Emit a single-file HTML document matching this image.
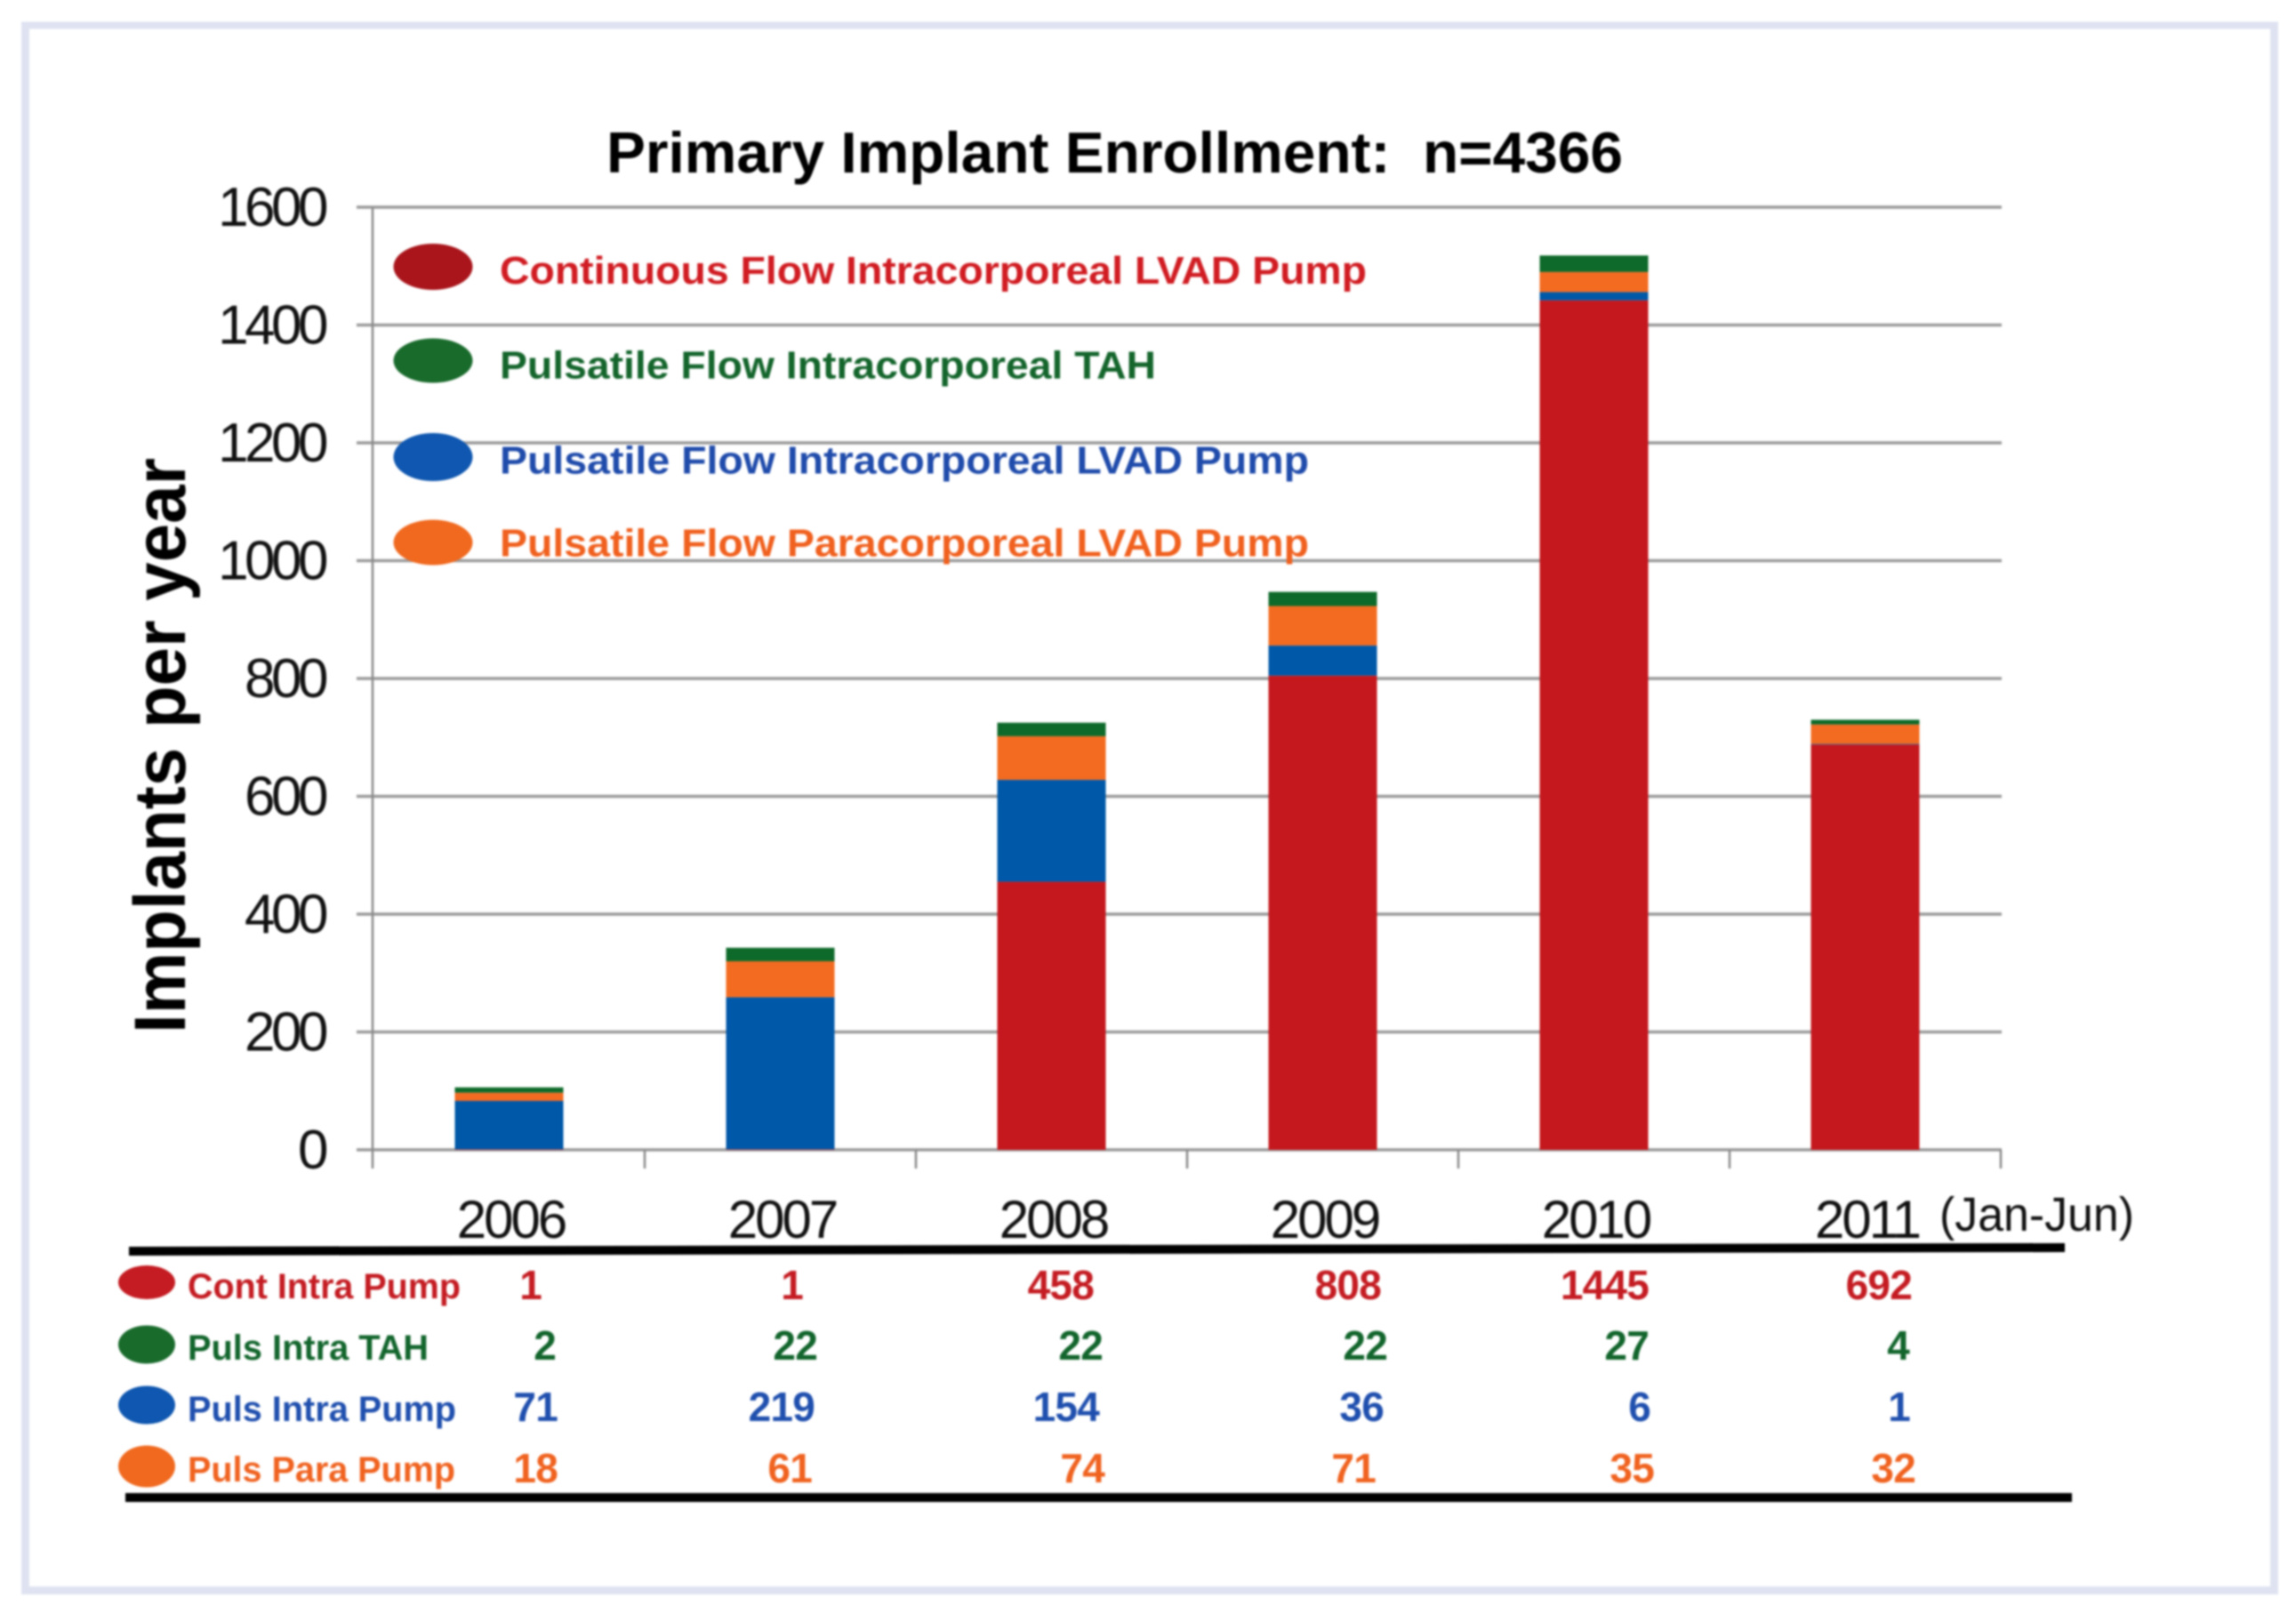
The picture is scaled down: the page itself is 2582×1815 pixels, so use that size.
<!DOCTYPE html>
<html lang="en">
<head>
<meta charset="utf-8">
<title>Primary Implant Enrollment</title>
<style>
html,body{margin:0;padding:0;background:#fff;}
body{width:2582px;height:1815px;overflow:hidden;}
svg{display:block;filter:blur(1.1px);}
text{font-family:"Liberation Sans",Arial,sans-serif;}
.tick{font-size:62px;letter-spacing:-4.5px;fill:#111;text-anchor:end;}
.xlab{font-size:60px;letter-spacing:-3px;fill:#111;text-anchor:middle;}
.leg{font-size:44px;font-weight:700;}
.rowlab{font-size:40px;font-weight:700;}
.num{font-size:46px;font-weight:700;text-anchor:end;letter-spacing:-0.8px;}
.red{fill:#c41c22;}.green{fill:#12652c;}.blue{fill:#1f4fae;}.orange{fill:#f0621f;}
</style>
</head>
<body>
<svg id="chart" xmlns="http://www.w3.org/2000/svg" width="2582" height="1815" viewBox="0 0 2582 1815">
  <rect x="0" y="0" width="2582" height="1815" fill="#fff"/>
  <rect x="24" y="24.5" width="2538" height="1768.5" fill="#dfe3f1"/>
  <rect x="33" y="32.5" width="2520" height="1751.5" fill="#fff"/>

  <text x="682" y="194" font-size="65" font-weight="700" fill="#000" textLength="1143" lengthAdjust="spacingAndGlyphs">Primary Implant Enrollment:&#160; n=4366</text>

  <text transform="translate(208,1162) rotate(-90)" font-size="82" font-weight="700" fill="#000" textLength="647" lengthAdjust="spacingAndGlyphs">Implants per year</text>

  <g id="grid"></g>
  <g id="bars"></g>
  <g id="axes"></g>

  <g>
    <ellipse cx="487" cy="300" rx="44.5" ry="26" fill="#a9151b"/>
    <text class="leg" x="562" y="319" fill="#d01c22" textLength="975" lengthAdjust="spacingAndGlyphs">Continuous Flow Intracorporeal LVAD Pump</text>
    <ellipse cx="487" cy="405.5" rx="44.5" ry="25" fill="#196b2c"/>
    <text class="leg" x="562" y="425.5" fill="#14652c" textLength="738" lengthAdjust="spacingAndGlyphs">Pulsatile Flow Intracorporeal TAH</text>
    <ellipse cx="487" cy="514" rx="44.5" ry="27" fill="#0f57b0"/>
    <text class="leg" x="562" y="532.5" fill="#1f4bab" textLength="910" lengthAdjust="spacingAndGlyphs">Pulsatile Flow Intracorporeal LVAD Pump</text>
    <ellipse cx="487" cy="610" rx="44.5" ry="25.5" fill="#f0691f"/>
    <text class="leg" x="562" y="625.5" fill="#f0601e" textLength="910" lengthAdjust="spacingAndGlyphs">Pulsatile Flow Paracorporeal LVAD Pump</text>
  </g>

  <text x="2181" y="1384" font-size="54" fill="#111" textLength="219" lengthAdjust="spacingAndGlyphs">(Jan-Jun)</text>

  <g>
    <line x1="145" y1="1407" x2="2322" y2="1403" stroke="#000" stroke-width="10"/>
    <line x1="141" y1="1684" x2="2330" y2="1684" stroke="#000" stroke-width="10"/>

    <ellipse cx="165" cy="1442" rx="32" ry="19" fill="#c41c22"/>
    <text class="rowlab red" x="211" y="1460" textLength="307" lengthAdjust="spacingAndGlyphs">Cont Intra Pump</text>
    <text class="num red" x="609" y="1461">1</text>
    <text class="num red" x="903" y="1461">1</text>
    <text class="num red" x="1230" y="1461">458</text>
    <text class="num red" x="1553" y="1461">808</text>
    <text class="num red" x="1854" y="1461">1445</text>
    <text class="num red" x="2150" y="1461">692</text>

    <ellipse cx="165" cy="1512" rx="32" ry="21.5" fill="#196b2c"/>
    <text class="rowlab green" x="211" y="1529" textLength="271" lengthAdjust="spacingAndGlyphs">Puls Intra TAH</text>
    <text class="num green" x="625" y="1529">2</text>
    <text class="num green" x="919" y="1529">22</text>
    <text class="num green" x="1240" y="1529">22</text>
    <text class="num green" x="1560" y="1529">22</text>
    <text class="num green" x="1854" y="1529">27</text>
    <text class="num green" x="2147" y="1529">4</text>

    <ellipse cx="165" cy="1580" rx="32" ry="21.5" fill="#0f57b0"/>
    <text class="rowlab blue" x="211" y="1598" textLength="302" lengthAdjust="spacingAndGlyphs">Puls Intra Pump</text>
    <text class="num blue" x="627" y="1598">71</text>
    <text class="num blue" x="916" y="1598">219</text>
    <text class="num blue" x="1236" y="1598">154</text>
    <text class="num blue" x="1556" y="1598">36</text>
    <text class="num blue" x="1856" y="1598">6</text>
    <text class="num blue" x="2148" y="1598">1</text>

    <ellipse cx="165" cy="1649" rx="32" ry="23.5" fill="#f0691f"/>
    <text class="rowlab orange" x="211" y="1666" textLength="301" lengthAdjust="spacingAndGlyphs">Puls Para Pump</text>
    <text class="num orange" x="627" y="1667">18</text>
    <text class="num orange" x="913" y="1667">61</text>
    <text class="num orange" x="1242" y="1667">74</text>
    <text class="num orange" x="1547" y="1667">71</text>
    <text class="num orange" x="1860" y="1667">35</text>
    <text class="num orange" x="2154" y="1667">32</text>
  </g>
</svg>
<script>
// Chart data (bottom-to-top stacking order below)
const categories = ['2006', '2007', '2008', '2009', '2010', '2011'];
const continuousIntraLvad = [1, 1, 455, 805, 1442, 688];
const pulsatileIntraLvad = [82, 258, 173, 51, 14, 1];
const pulsatileParaLvad = [14, 61, 74, 67, 34, 33];
const pulsatileIntraTah = [9, 23, 23, 24, 28, 8];
const yTicks = [0, 200, 400, 600, 800, 1000, 1200, 1400, 1600];

const NS = 'http://www.w3.org/2000/svg';
const plotLeft = 420, plotRight = 2250, baseY = 1293, pxPerUnit = 0.6625, barWidth = 122;
function yScale(v) { return baseY - v * pxPerUnit; }
function xBand(i) { return plotLeft + (plotRight - plotLeft) * (i + 0.5) / categories.length; }
function xEdge(i) { return plotLeft + (plotRight - plotLeft) * i / categories.length; }
function make(tag, parent) {
  const el = document.createElementNS(NS, tag);
  parent.appendChild(el);
  return el;
}

const grid = document.getElementById('grid');
const barsGroup = document.getElementById('bars');
const axes = document.getElementById('axes');

yTicks.forEach(function (t) {
  const line = make('line', grid);
  
  
  line.setAttribute('x1', 401);
  line.setAttribute('x2', 2251);
  line.setAttribute('y1', yScale(t));
  line.setAttribute('y2', yScale(t));
  line.setAttribute('stroke', '#9b9b9b');
  line.setAttribute('stroke-width', 3.5);

  const label = make('text', axes);
  
  
  label.setAttribute('class', 'tick');
  label.setAttribute('x', 365);
  label.setAttribute('y', yScale(t) + 21);
  label.textContent = String(t);
});

const stackOrder = [
  { key: 'continuous-intra-lvad', values: continuousIntraLvad, color: '#c4181e' },
  { key: 'pulsatile-intra-lvad', values: pulsatileIntraLvad, color: '#0058a8' },
  { key: 'pulsatile-para-lvad', values: pulsatileParaLvad, color: '#f26b21' },
  { key: 'pulsatile-intra-tah', values: pulsatileIntraTah, color: '#0e6a2a' }
];

categories.forEach(function (cat, i) {
  let cumulative = 0;
  stackOrder.forEach(function (series) {
    const v = series.values[i];
    const rect = make('rect', barsGroup);
    
    
    rect.setAttribute('x', xBand(i) - barWidth / 2);
    rect.setAttribute('width', barWidth);
    rect.setAttribute('y', yScale(cumulative + v));
    rect.setAttribute('height', Math.max(0, yScale(cumulative) - yScale(cumulative + v)));
    rect.setAttribute('fill', series.color);
    cumulative += v;
  });

  const label = make('text', axes);
  
  
  label.setAttribute('class', 'xlab');
  label.setAttribute('x', xBand(i) + 2);
  label.setAttribute('y', 1392);
  label.textContent = cat;
});

const yAxis = make('line', axes);


yAxis.setAttribute('x1', plotLeft - 1);
yAxis.setAttribute('x2', plotLeft - 1);
yAxis.setAttribute('y1', yScale(1600));
yAxis.setAttribute('y2', 1314);
yAxis.setAttribute('stroke', '#8a8a8a');
yAxis.setAttribute('stroke-width', 2.5);

for (let i = 1; i <= categories.length; i++) {
  const tick = make('line', axes);
  
  
  tick.setAttribute('x1', xEdge(i));
  tick.setAttribute('x2', xEdge(i));
  tick.setAttribute('y1', baseY);
  tick.setAttribute('y2', 1314);
  tick.setAttribute('stroke', '#8a8a8a');
  tick.setAttribute('stroke-width', 2.5);
}
</script>
</body>
</html>
